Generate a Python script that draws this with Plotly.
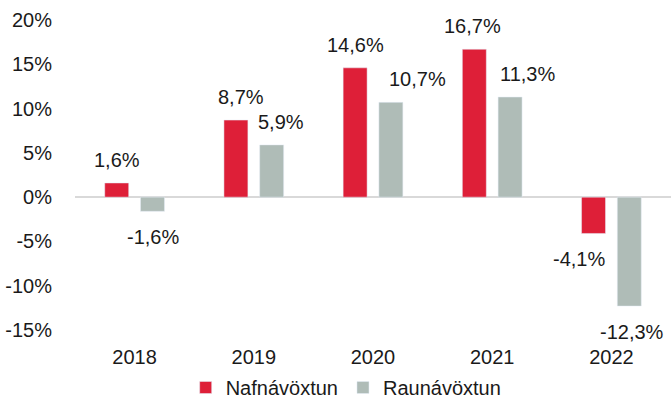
import plotly.graph_objects as go

years = ["2018", "2019", "2020", "2021", "2022"]
nafnavoxtun = [1.6, 8.7, 14.6, 16.7, -4.1]
raunavoxtun = [-1.6, 5.9, 10.7, 11.3, -12.3]
y_ticks = [-15, -10, -5, 0, 5, 10, 15, 20]

RED = "#de1f38"
GREY = "#afbcb7"
FONT = "Liberation Sans, Arial, sans-serif"


def fmt(v):
    return f"{v:.1f}%".replace(".", ",")


fig = go.Figure()
fig.add_trace(go.Bar(x=years, y=nafnavoxtun, name="Nafnávöxtun", marker=dict(color=RED)))
fig.add_trace(go.Bar(x=years, y=raunavoxtun, name="Raunávöxtun", marker=dict(color=GREY)))

# value labels, nudged sideways where neighbouring labels would collide;
# annotations address the category axis by index
red_dx = [0, 5, 0, -2, -14]
grey_dx = [0, 9, 26, 17, 3]
for i in range(len(years)):
    for vals, base, dx in ((nafnavoxtun, -18, red_dx), (raunavoxtun, 18, grey_dx)):
        v = vals[i]
        fig.add_annotation(
            x=i, y=v, xref="x", yref="y", text=fmt(v), showarrow=False,
            xshift=base + dx[i], yshift=23 if v >= 0 else -26,
            font=dict(size=20, color="#1a1a1a", family=FONT),
        )

fig.update_layout(
    width=671, height=407,
    margin=dict(l=75, r=0, t=20, b=77),
    paper_bgcolor="white", plot_bgcolor="white",
    barmode="group", bargap=0.4, bargroupgap=0.33,
    font=dict(family=FONT, size=20, color="#1a1a1a"),
    showlegend=True,
    legend=dict(orientation="h", x=0.455, xanchor="center",
                yref="container", y=-0.04, yanchor="bottom",
                font=dict(size=20), itemwidth=30),
    xaxis=dict(type="category", range=[-0.5, 4.5], autorange=False,
               showgrid=False, showline=False,
               ticks="outside", ticklen=9, tickcolor="rgba(0,0,0,0)"),
    yaxis=dict(range=[-15, 20], autorange=False, tickvals=y_ticks,
               ticktext=[f"{t}%" for t in y_ticks],
               showgrid=False, zeroline=True, zerolinecolor="#d9d9d9",
               zerolinewidth=2, showline=False,
               ticks="outside", ticklen=18, tickcolor="rgba(0,0,0,0)"),
)

fig.write_html("out.html")
